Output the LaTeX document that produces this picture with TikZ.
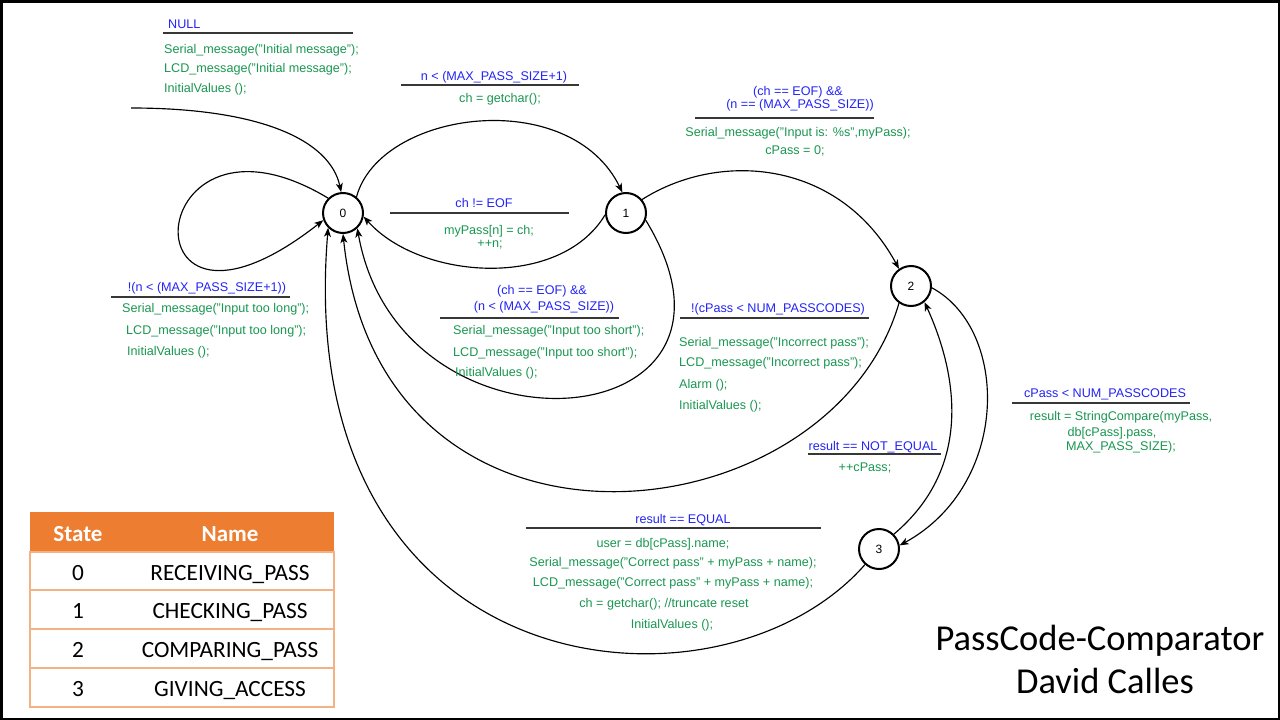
\documentclass[tikz,border=0pt]{standalone}
\usepackage{fontspec}
\setmainfont{Liberation Sans}
\newfontfamily\calfont{Carlito}
\usetikzlibrary{arrows.meta}
\definecolor{condblue}{RGB}{35,35,245}
\definecolor{actgreen}{RGB}{25,150,80}
\definecolor{hdr}{RGB}{237,125,49}
\definecolor{rowline}{RGB}{244,177,131}
\definecolor{rulegray}{RGB}{55,55,55}
\newcommand\lblsize{\fontsize{12.6}{14}\selectfont}
\begin{document}
\begin{tikzpicture}[x=1pt,y=-1pt,
  state/.style={circle, draw, line width=2pt, minimum size=40pt, inner sep=0pt, font=\fontsize{12}{14}\selectfont},
  edge/.style={line width=1.15pt, -{Stealth[length=9pt,width=7pt,inset=2.5pt]}},
  cond/.style={text=condblue, font=\lblsize, inner sep=0pt, anchor=base},
  act/.style={text=actgreen, font=\lblsize, inner sep=0pt, anchor=base},
  rulel/.style={draw=rulegray, line width=1.5pt},
  tabtxt/.style={font=\calfont\fontsize{23.3}{26}\selectfont, inner sep=0pt, anchor=base},
  tabhdr/.style={font=\calfont\bfseries\fontsize{23}{26}\selectfont, text=white, inner sep=0pt, anchor=base},
  title/.style={font=\calfont\fontsize{36.5}{44}\selectfont, inner sep=0pt, anchor=base}]
\useasboundingbox (0,0) rectangle (1280,720);
\draw[line width=2.5pt] (1.25,1.25) rectangle (1278.75,718.75);

% states
\node[state] (s0) at (343,213) {0};
\node[state] (s1) at (626,213) {1};
\node[state] (s2) at (911,286) {2};
\node[state] (s3) at (879,549) {3};
\coordinate (init) at (131,108);

% connectors
\draw[edge] (init) .. controls (260,108) and (330,140) .. (s0.95);
\draw[edge] (s0.135) .. controls (140,85) and (120,380) .. (s0.200);
\draw[edge] (s0.50) .. controls (380,110) and (570,85) .. (s1.100);
\draw[edge] (s1.185) .. controls (560,290) and (420,280) .. (s0.-10);
\draw[edge] (s1.-20) .. controls (780,440) and (400,470) .. (s0.-47);
\draw[edge] (s1.40) .. controls (720,150) and (840,160) .. (s2.125);
\draw[edge] (s2.235) .. controls (830,540) and (380,590) .. (s0.270);
\draw[edge] (s3.228) .. controls (720,730) and (290,690) .. (s0.225);
\draw[edge] (s2.-5) .. controls (1010,330) and (1010,485) .. (s3.10);
\draw[edge] (s3.45) .. controls (970,470) and (960,380) .. (s2.-50);

% label A (initial)
\node[cond, anchor=base west] (la0) at (168,28.5) {NULL};
\draw[rulel] (163,33) -- (353,33);
\node[act, anchor=base west] (la1) at (164,53.5) {Serial\_message("Initial message");};
\node[act, anchor=base west] (la2) at (164,72.5) {LCD\_message("Initial message");};
\node[act, anchor=base west] (la3) at (164,92.5) {InitialValues ();};

% label B (0->1)
\node[cond] (lb0) at (494,80.5) {n < (MAX\_PASS\_SIZE+1)};
\draw[rulel] (401,85) -- (579,85);
\node[act] (lb1) at (500,102.5) {ch = getchar();};

% label C (1->2)
\node[cond] (lc0) at (798,95.5) {(ch == EOF) \&\&};
\node[cond] (lc1) at (800,108.5) {(n == (MAX\_PASS\_SIZE))};
\draw[rulel] (695,118) -- (874,118);
\node[act] (lc2) at (798,136.5) {Serial\_message("Input is: \%s",myPass);};
\node[act] (lc3) at (795,154.5) {cPass = 0;};

% label D (self loop)
\node[cond] (ld0) at (207,291.5) {!(n < (MAX\_PASS\_SIZE+1))};
\draw[rulel] (111,297) -- (290,297);
\node[act, anchor=base west] (ld1) at (122,312.5) {Serial\_message("Input too long");};
\node[act, anchor=base west] (ld2) at (126,334.5) {LCD\_message("Input too long");};
\node[act, anchor=base west] (ld3) at (127,355.5) {InitialValues ();};

% label E (1->0 ch != EOF)
\node[cond] (le0) at (484,207.5) {ch != EOF};
\draw[rulel] (390,213) -- (569,213);
\node[act] (le1) at (489,234.5) {myPass[n] = ch;};
\node[act] (le2) at (490,247.5) {++n;};

% label F (1->0 too short)
\node[cond] (lf0) at (542,294.5) {(ch == EOF) \&\&};
\node[cond] (lf1) at (544,310.5) {(n < (MAX\_PASS\_SIZE))};
\draw[rulel] (440,318) -- (619,318);
\node[act, anchor=base west] (lf2) at (453,334.5) {Serial\_message("Input too short");};
\node[act, anchor=base west] (lf3) at (453,356.5) {LCD\_message("Input too short");};
\node[act, anchor=base west] (lf4) at (455,376.5) {InitialValues ();};

% label G (2->0 incorrect)
\node[cond] (lg0) at (778,312.5) {!(cPass < NUM\_PASSCODES)};
\draw[rulel] (680,318) -- (869,318);
\node[act, anchor=base west] (lg1) at (679,346.5) {Serial\_message("Incorrect pass");};
\node[act, anchor=base west] (lg2) at (679,366.5) {LCD\_message("Incorrect pass");};
\node[act, anchor=base west] (lg3) at (679,388.5) {Alarm ();};
\node[act, anchor=base west] (lg4) at (679,409.5) {InitialValues ();};

% label H (3->2)
\node[cond] (lh0) at (873,450.5) {result == NOT\_EQUAL};
\draw[rulel] (808,454) -- (941,454);
\node[act] (lh1) at (865,471.5) {++cPass;};

% label I (2->3)
\node[cond] (li0) at (1105,397.5) {cPass < NUM\_PASSCODES};
\draw[rulel] (1012,403) -- (1190,403);
\node[act] (li1) at (1121,420.5) {result = StringCompare(myPass,};
\node[act] (li2) at (1112,436.5) {db[cPass].pass,};
\node[act] (li3) at (1121,450.5) {MAX\_PASS\_SIZE);};

% label J (3->0)
\node[cond] (lj0) at (683,523.5) {result == EQUAL};
\draw[rulel] (526,528) -- (821,528);
\node[act] (lj1) at (663,547.5) {user = db[cPass].name;};
\node[act] (lj2) at (673,566.5) {Serial\_message("Correct pass" + myPass + name);};
\node[act] (lj3) at (673,586.5) {LCD\_message("Correct pass" + myPass + name);};
\node[act] (lj4) at (664,607.5) {ch = getchar(); //truncate reset};
\node[act] (lj5) at (672,628.5) {InitialValues ();};

% table
\fill[hdr] (30,512) rectangle (334,552);
\draw[rowline, line width=1.2pt] (30,552) rectangle (334,707);
\draw[rowline, line width=1.2pt] (30,590) -- (334,590);
\draw[rowline, line width=1.2pt] (30,629) -- (334,629);
\draw[rowline, line width=1.2pt] (30,668) -- (334,668);
\node[tabhdr] (th1) at (78,541) {State};
\node[tabhdr] (th2) at (230,541) {Name};
\node[tabtxt] (t01) at (78,580) {0};
\node[tabtxt] (t02) at (230,580) {RECEIVING\_PASS};
\node[tabtxt] (t11) at (78,618) {1};
\node[tabtxt] (t12) at (230,618) {CHECKING\_PASS};
\node[tabtxt] (t21) at (78,657) {2};
\node[tabtxt] (t22) at (230,657) {COMPARING\_PASS};
\node[tabtxt] (t31) at (78,696) {3};
\node[tabtxt] (t32) at (230,696) {GIVING\_ACCESS};

% title
\node[title] (ti1) at (1100,650) {PassCode-Comparator};
\node[title] (ti2) at (1105,693) {David Calles};
\end{tikzpicture}
\end{document}
